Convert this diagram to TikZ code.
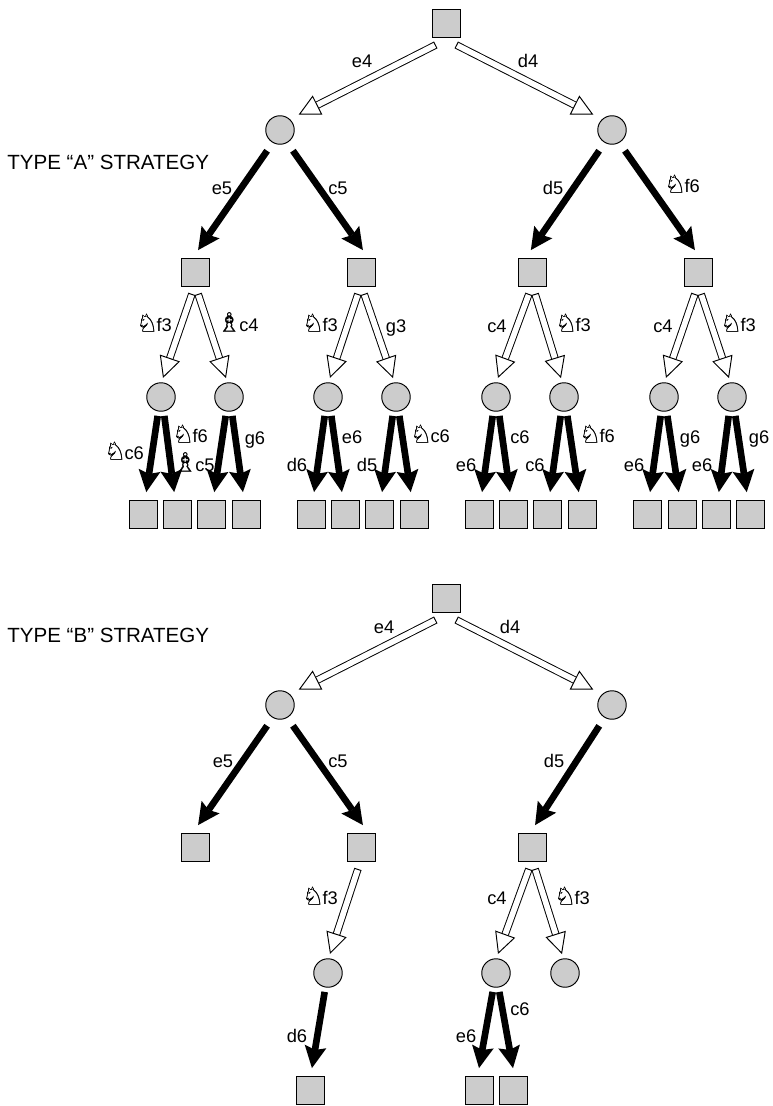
\documentclass[tikz,border=0pt]{standalone}
\usepackage{fontspec}
\setmainfont{Liberation Sans}
\newfontfamily\chessfont[FakeBold=0.8]{DejaVu Sans}
\usetikzlibrary{arrows.meta}
\newcommand{\wkn}{{\chessfont\fontsize{14}{14}\selectfont\char"2658}\kern-1pt}
\newcommand{\wbs}{{\chessfont\fontsize{15}{15}\selectfont\char"2657}\kern-1pt}

\begin{document}
\begin{tikzpicture}[x=0.02cm,y=-0.02cm]
%style for square node
\tikzstyle{snode} = [rectangle, fill=black!20, draw=black, line width=0.55pt, minimum size=0.56cm, inner sep=0pt, outer sep=4.5pt]

%style for circle node
\tikzstyle{cnode} = [circle, fill=black!20, draw=black, line width=0.55pt, minimum size=0.57cm, inner sep=0pt, outer sep=2.8pt]

%style for labels
\tikzstyle{lbl} = [inner sep=0pt, text height=7.5pt, text depth=0pt, font=\fontsize{10.4}{12}\selectfont]
\tikzstyle{title} = [inner sep=0pt, anchor=west, font=\fontsize{11.7}{13}\selectfont]

%style for arrows
\tikzstyle{wline} = [draw=black, line width=0.55pt, double=white, double distance=3.2pt, {Bar[width=4.3pt,line width=0.55pt]}-{Triangle[width=12pt,length=12pt,fill=white,line width=0.55pt]}]
\tikzstyle{bline} = [draw=black, line width=3.8pt, -{Stealth[width=12.5pt,length=12.5pt,inset=2pt,fill=black,line width=0pt]}]

\useasboundingbox (0,0) rectangle (772,1106);

%place nodes, first tree
\node[snode](rootA) at (446,23) {};
\node[cnode](ae) at (280,130) {};
\node[cnode](ad) at (612,130) {};
\node[snode](aee) at (195,272) {};
\node[snode](aec) at (361,272) {};
\node[snode](add) at (532,272) {};
\node[snode](adf) at (698,272) {};
\node[cnode](a1) at (161,397) {};
\node[cnode](a2) at (229,397) {};
\node[cnode](a3) at (328,397) {};
\node[cnode](a4) at (396,397) {};
\node[cnode](a5) at (496,397) {};
\node[cnode](a6) at (564,397) {};
\node[cnode](a7) at (664,397) {};
\node[cnode](a8) at (732,397) {};
\node[snode](la1) at (143,514) {};
\node[snode](la2) at (177,514) {};
\node[snode](la3) at (211,514) {};
\node[snode](la4) at (246,514) {};
\node[snode](la5) at (311,514) {};
\node[snode](la6) at (345,514) {};
\node[snode](la7) at (379,514) {};
\node[snode](la8) at (414,514) {};
\node[snode](la9) at (479,514) {};
\node[snode](la10) at (513,514) {};
\node[snode](la11) at (547,514) {};
\node[snode](la12) at (582,514) {};
\node[snode](la13) at (647,514) {};
\node[snode](la14) at (682,514) {};
\node[snode](la15) at (716,514) {};
\node[snode](la16) at (750,514) {};

%place nodes, second tree
\node[snode](rootB) at (446,598) {};
\node[cnode](be) at (280,705) {};
\node[cnode](bd) at (612,705) {};
\node[snode](bee) at (195,847) {};
\node[snode](bec) at (361,847) {};
\node[snode](bdd) at (532,847) {};
\node[cnode](b1) at (328,973) {};
\node[cnode](b2) at (496,973) {};
\node[cnode](b3) at (565,973) {};
\node[snode](lb1) at (310,1090) {};
\node[snode](lb2) at (479,1090) {};
\node[snode](lb3) at (513,1090) {};

%connect nodes, first tree
\draw[wline,shorten >=3pt] (rootA.-115) -- (ae.43);
\draw[wline,shorten >=3pt] (rootA.-65) -- (ad.137);
\draw[bline,shorten <=3pt] (ae.-121) -- (aee.82);
\draw[bline,shorten <=3pt] (ae.-59) -- (aec.85);
\draw[bline,shorten <=3pt] (ad.-121) -- (add.93);
\draw[bline,shorten <=3pt] (ad.-59) -- (adf.98);
\draw[wline] (aee.-98) -- (a1.84);
\draw[wline] (aee.-82) -- (a2.99);
\draw[wline] (aec.-98) -- (a3.84);
\draw[wline] (aec.-82) -- (a4.99);
\draw[wline] (add.-98) -- (a5.84);
\draw[wline] (add.-82) -- (a6.99);
\draw[wline] (adf.-98) -- (a7.84);
\draw[wline] (adf.-82) -- (a8.99);
\draw[bline] (a1.-100) -- (la1);
\draw[bline] (a1.-80) -- (la2);
\draw[bline] (a2.-100) -- (la3);
\draw[bline] (a2.-80) -- (la4);
\draw[bline] (a3.-100) -- (la5);
\draw[bline] (a3.-80) -- (la6);
\draw[bline] (a4.-100) -- (la7);
\draw[bline] (a4.-80) -- (la8);
\draw[bline] (a5.-100) -- (la9);
\draw[bline] (a5.-80) -- (la10);
\draw[bline] (a6.-100) -- (la11);
\draw[bline] (a6.-80) -- (la12);
\draw[bline] (a7.-100) -- (la13);
\draw[bline] (a7.-80) -- (la14);
\draw[bline] (a8.-100) -- (la15);
\draw[bline] (a8.-80) -- (la16);

%connect nodes, second tree
\draw[wline,shorten >=3pt] (rootB.-115) -- (be.43);
\draw[wline,shorten >=3pt] (rootB.-65) -- (bd.137);
\draw[bline,shorten <=3pt] (be.-121) -- (bee.82);
\draw[bline,shorten <=3pt] (be.-59) -- (bec.85);
\draw[bline,shorten <=3pt] (bd.-121) -- (bdd.82);
\draw[wline] (bec.-98) -- (b1.84);
\draw[wline] (bdd.-98) -- (b2.84);
\draw[wline] (bdd.-82) -- (b3.99);
\draw[bline] (b1.-100) -- (lb1.85);
\draw[bline] (b2.-100) -- (lb2.north);
\draw[bline] (b2.-80) -- (lb3.north);

%labels
\node[title] (typeA) at (7,162) {TYPE “A” STRATEGY};
\node[title] (typeB) at (7,635) {TYPE “B” STRATEGY};
\node[lbl](t1) at (362,61) {e4};
\node[lbl](t2) at (528,61) {d4};
\node[lbl](t3) at (222,188) {e5};
\node[lbl](t4) at (338,188) {c5};
\node[lbl](t5) at (553,188) {d5};
\node[lbl](t6) at (682,186) {\wkn f6};
\node[lbl](t7) at (154,325) {\wkn f3};
\node[lbl](t8) at (238,325) {\wbs c4};
\node[lbl](t9) at (320,325) {\wkn f3};
\node[lbl](t10) at (396,326) {g3};
\node[lbl](t11) at (497,326) {c4};
\node[lbl](t12) at (573,325) {\wkn f3};
\node[lbl](t13) at (663,326) {c4};
\node[lbl](t14) at (738,325) {\wkn f3};
\node[lbl](t15) at (124,453) {\wkn c6};
\node[lbl](t16) at (190,436) {\wkn f6};
\node[lbl](t17) at (194,465) {\wbs c5};
\node[lbl](t18) at (255,438) {g6};
\node[lbl](t19) at (297,465) {d6};
\node[lbl](t20) at (352,437) {e6};
\node[lbl](t21) at (367,465) {d5};
\node[lbl](t22) at (430,436) {\wkn c6};
\node[lbl](t23) at (466,465) {e6};
\node[lbl](t24) at (520,437) {c6};
\node[lbl](t25) at (535,465) {c6};
\node[lbl](t26) at (597,436) {\wkn f6};
\node[lbl](t27) at (634,465) {e6};
\node[lbl](t28) at (690,437) {g6};
\node[lbl](t29) at (702,465) {e6};
\node[lbl](t30) at (759,437) {g6};
\node[lbl](t31) at (384,627) {e4};
\node[lbl](t32) at (510,627) {d4};
\node[lbl](t33) at (223,761) {e5};
\node[lbl](t34) at (338,761) {c5};
\node[lbl](t35) at (554,761) {d5};
\node[lbl](t36) at (320,898) {\wkn f3};
\node[lbl](t37) at (497,898) {c4};
\node[lbl](t38) at (572,898) {\wkn f3};
\node[lbl](t39) at (297,1036) {d6};
\node[lbl](t40) at (466,1036) {e6};
\node[lbl](t41) at (520,1009) {c6};
\end{tikzpicture}
\end{document}
